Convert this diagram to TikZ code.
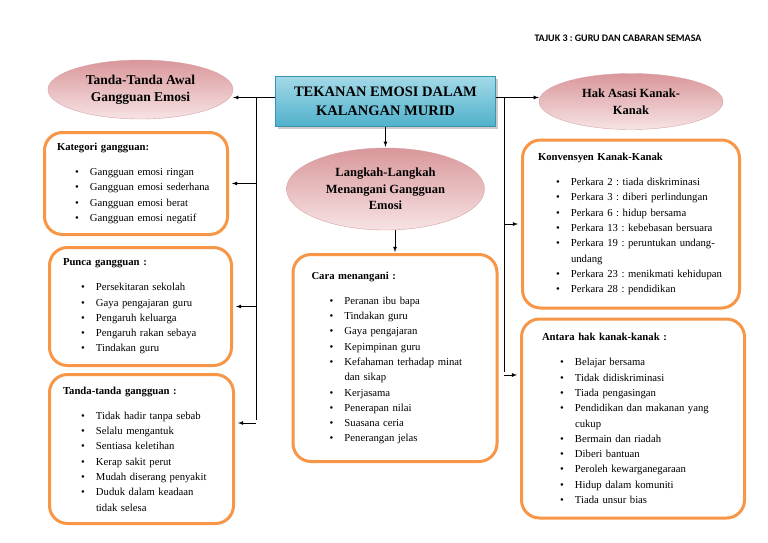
\documentclass[tikz,border=0pt]{standalone}
\usepackage{fontspec}
\setmainfont{Liberation Serif}
\newfontfamily\hdrfont{Carlito}
\usetikzlibrary{positioning,shapes.geometric,shadows}
\definecolor{boxorange}{HTML}{F79646}
\definecolor{pinkdark}{HTML}{D9979A}
\definecolor{pinklight}{HTML}{F7E3E4}
\definecolor{pinkline}{HTML}{D7A3A6}
\definecolor{teallight}{HTML}{A3D9E8}
\definecolor{tealdark}{HTML}{4FB1CB}
\definecolor{tealline}{HTML}{3A95B0}
\newcommand{\butir}[1]{\hspace*{18pt}\makebox[15pt][l]{\textbullet}#1}
\newcommand{\sambung}[1]{\hspace*{33pt}#1}
\frenchspacing

\begin{document}
\begin{tikzpicture}[x=1pt,y=-1pt,on grid,>=latex,
  topik/.style={rectangle,draw=tealline,top color=teallight,bottom color=tealdark,
    minimum width=220pt,minimum height=50pt,align=center,
    font=\bfseries\fontsize{14.5}{19}\selectfont,
    drop shadow={opacity=0.4,shadow xshift=2pt,shadow yshift=-2pt}},
  cabang/.style={ellipse,draw=pinkline,top color=pinkdark,bottom color=pinklight,
    inner sep=0pt,align=center,font=\bfseries\fontsize{12.5}{16.5}\selectfont},
  senarai/.style={rectangle,draw=boxorange,line width=3pt,rounded corners=18pt,
    fill=white,align=left,font=\fontsize{10.7}{15.3}\selectfont},
  garis/.style={line width=0.8pt,shorten >=3pt}]
\useasboundingbox (0,0) rectangle (768,543);
\node[font=\hdrfont\bfseries\fontsize{10}{12}\selectfont] (tajuk) at (618,38) {TAJUK 3 : GURU DAN CABARAN SEMASA};
\node[topik] (tekanan) at (385.5,101.5) {TEKANAN EMOSI DALAM\\KALANGAN MURID};
\node[cabang,minimum width=185pt,minimum height=59pt,font=\bfseries\fontsize{13.5}{17}\selectfont] (awal) [above left=12pt and 245pt of tekanan] {Tanda-Tanda Awal\\Gangguan Emosi};
\node[cabang,minimum width=184pt,minimum height=56pt] (hak) [right=245.5pt of tekanan] {Hak Asasi Kanak-\\Kanak};
\node[cabang,minimum width=198pt,minimum height=82pt] (langkah) [below=87.5pt of tekanan] {Langkah-Langkah\\Menangani Gangguan\\Emosi};
\node[senarai,text width=158pt,inner xsep=12.5pt,minimum height=102pt] (kategori) [below left=94pt and 4.5pt of awal] {\textbf{Kategori gangguan:}\\[9.7pt]
  \butir{Gangguan emosi ringan}\\
  \butir{Gangguan emosi sederhana}\\
  \butir{Gangguan emosi berat}\\
  \butir{Gangguan emosi negatif}};
\node[senarai,text width=155pt,inner xsep=13.5pt,minimum height=118pt] (punca) [below right=123pt and 4.5pt of kategori] {\textbf{Punca gangguan :}\\[9.7pt]
  \butir{Persekitaran sekolah}\\
  \butir{Gaya pengajaran guru}\\
  \butir{Pengaruh keluarga}\\
  \butir{Pengaruh rakan sebaya}\\
  \butir{Tindakan guru}};
\node[senarai,text width=157pt,inner xsep=13.5pt,minimum height=149pt] (tanda) [below right=142.5pt and 1pt of punca] {\textbf{Tanda-tanda gangguan :}\\[9.7pt]
  \butir{Tidak hadir tanpa sebab}\\
  \butir{Selalu mengantuk}\\
  \butir{Sentiasa keletihan}\\
  \butir{Kerap sakit perut}\\
  \butir{Mudah diserang penyakit}\\
  \butir{Duduk dalam keadaan}\\
  \sambung{tidak selesa}};
\node[senarai,text width=167pt,inner xsep=18.5pt,minimum height=207pt] (cara) [below right=169pt and 9.5pt of langkah] {\textbf{Cara menangani :}\\[9.7pt]
  \butir{Peranan ibu bapa}\\
  \butir{Tindakan guru}\\
  \butir{Gaya pengajaran}\\
  \butir{Kepimpinan guru}\\
  \butir{Kefahaman terhadap minat}\\
  \sambung{dan sikap}\\
  \butir{Kerjasama}\\
  \butir{Penerapan nilai}\\
  \butir{Suasana ceria}\\
  \butir{Penerangan jelas}};
\node[senarai,text width=186pt,inner xsep=15.5pt,minimum height=168pt] (konvensyen) [below=122.5pt of hak] {\textbf{Konvensyen Kanak-Kanak}\\[9.7pt]
  \butir{Perkara 2 : tiada diskriminasi}\\
  \butir{Perkara 3 : diberi perlindungan}\\
  \butir{Perkara 6 : hidup bersama}\\
  \butir{Perkara 13 : kebebasan bersuara}\\
  \butir{Perkara 19 : peruntukan undang-}\\
  \sambung{undang}\\
  \butir{Perkara 23 : menikmati kehidupan}\\
  \butir{Perkara 28 : pendidikan}};
\node[senarai,text width=182pt,inner xsep=20.5pt,minimum height=199pt] (antara) [below right=194.5pt and 2pt of konvensyen] {\textbf{Antara hak kanak-kanak :}\\[9.7pt]
  \butir{Belajar bersama}\\
  \butir{Tidak didiskriminasi}\\
  \butir{Tiada pengasingan}\\
  \butir{Pendidikan dan makanan yang}\\
  \sambung{cukup}\\
  \butir{Bermain dan riadah}\\
  \butir{Diberi bantuan}\\
  \butir{Peroleh kewarganegaraan}\\
  \butir{Hidup dalam komuniti}\\
  \butir{Tiada unsur bias}};
\coordinate (kiri) at (256,97.5);
\coordinate (kiribawah) at (256,423);
\coordinate (kanan) at (504,97.5);
\coordinate (kananbawah) at (504,375);
\draw[garis,->,shorten >=0pt] (tekanan.west |- kiri) -- (awal.east |- kiri);
\draw[garis] (kiri) -- (kiribawah);
\draw[garis,->] (kiri |- kategori.east) -- (kategori.east);
\draw[garis,->] (kiri |- punca.east) -- (punca.east);
\draw[garis,->] (kiribawah) -- (tanda.east |- kiribawah);
\draw[garis,->,shorten >=0pt] (tekanan.east |- kanan) -- (hak.west |- kanan);
\draw[garis] (kanan) -- (kananbawah);
\draw[garis,->] (kanan |- konvensyen.west) -- (konvensyen.west);
\draw[garis,->] (kananbawah) -- (antara.west |- kananbawah);
\draw[garis,->,shorten >=1pt] (tekanan.south) -- (langkah.north);
\draw[garis,->,shorten >=1pt] (cara.north |- langkah.south) -- (cara.north);
\end{tikzpicture}
\end{document}
